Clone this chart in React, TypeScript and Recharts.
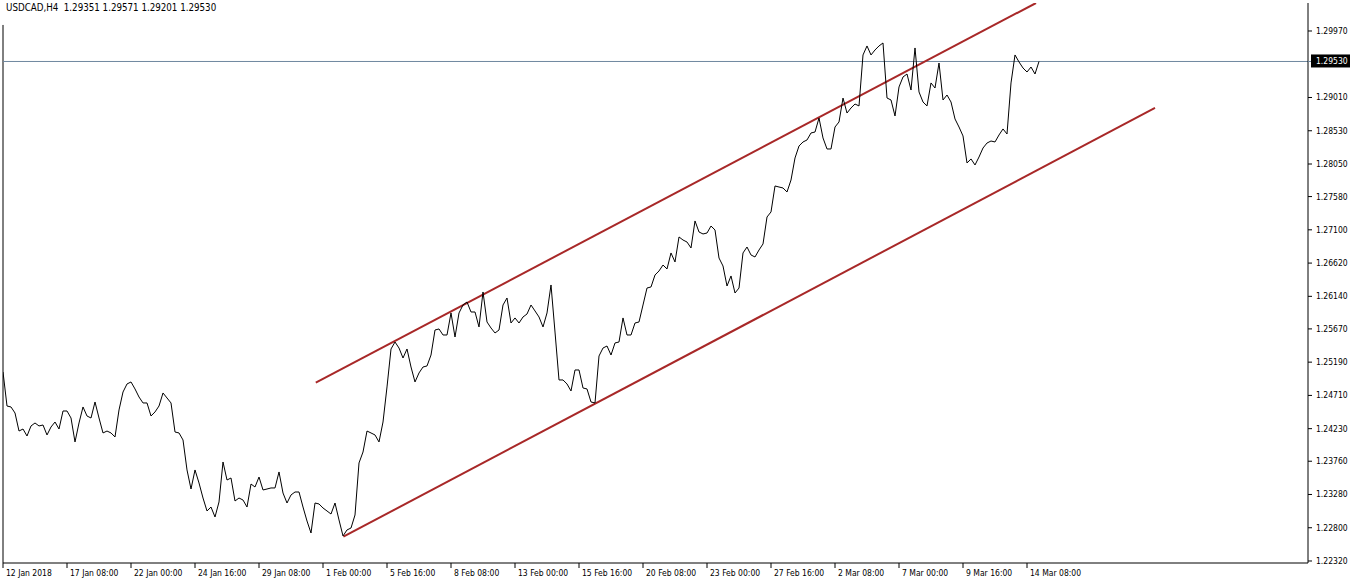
import React from "react";
import { LineChart, Line, XAxis, YAxis, ReferenceLine } from "recharts";

const headerText = "USDCAD,H4  1.29351 1.29571 1.29201 1.29530";

const closePrices: number[] = [
  1.25048, 1.24557, 1.24543, 1.24456, 1.24196, 1.24225, 1.24124, 1.24269, 1.24312, 1.24269,
  1.24283, 1.24139, 1.24254, 1.24326, 1.24225, 1.24485, 1.24485, 1.24384, 1.24038, 1.24312,
  1.24543, 1.24413, 1.24384, 1.24615, 1.24384, 1.24168, 1.24196, 1.24168, 1.24110, 1.24500,
  1.24759, 1.24875, 1.24904, 1.24803, 1.24687, 1.24601, 1.24601, 1.24413, 1.24471, 1.24557,
  1.24745, 1.24673, 1.24601, 1.24182, 1.24168, 1.24067, 1.23634, 1.23359, 1.23634, 1.23446,
  1.23229, 1.23042, 1.23099, 1.22955, 1.23172, 1.23749, 1.23489, 1.23518, 1.23186, 1.23229,
  1.23200, 1.23099, 1.23431, 1.23388, 1.23532, 1.23345, 1.23359, 1.23374, 1.23374, 1.23605,
  1.23301, 1.23157, 1.23273, 1.23316, 1.23316, 1.23099, 1.22897, 1.22724, 1.23157, 1.23143,
  1.23085, 1.23042, 1.22998, 1.23157, 1.22912, 1.22681, 1.22768, 1.22796, 1.22984, 1.23735,
  1.23893, 1.24196, 1.24168, 1.24139, 1.24038, 1.24326, 1.24832, 1.25380, 1.25481, 1.25394,
  1.25250, 1.25380, 1.25120, 1.24904, 1.25034, 1.25120, 1.25135, 1.25293, 1.25654, 1.25669,
  1.25582, 1.25582, 1.25900, 1.25553, 1.25900, 1.26015, 1.26058, 1.25914, 1.25914, 1.25698,
  1.26203, 1.25770, 1.25683, 1.25611, 1.25654, 1.26015, 1.26116, 1.25755, 1.25828, 1.25755,
  1.25842, 1.25885, 1.26015, 1.25929, 1.25842, 1.25698, 1.25900, 1.26304, 1.25625, 1.24933,
  1.24933, 1.24875, 1.24774, 1.25077, 1.25077, 1.24817, 1.24803, 1.24615, 1.24601, 1.25279,
  1.25394, 1.25423, 1.25293, 1.25467, 1.25481, 1.25828, 1.25582, 1.25582, 1.25755, 1.25770,
  1.26015, 1.26260, 1.26275, 1.26448, 1.26506, 1.26592, 1.26535, 1.26766, 1.26636, 1.26997,
  1.26953, 1.26924, 1.26838, 1.27228, 1.27069, 1.27040, 1.27054, 1.27155, 1.27098, 1.26693,
  1.26578, 1.26289, 1.26434, 1.26188, 1.26260, 1.26766, 1.26852, 1.26737, 1.26708, 1.26809,
  1.26896, 1.27285, 1.27358, 1.27733, 1.27718, 1.27704, 1.27646, 1.27819, 1.28137, 1.28310,
  1.28368, 1.28397, 1.28498, 1.28512, 1.28714, 1.28426, 1.28267, 1.28267, 1.28584, 1.28657,
  1.29002, 1.28786, 1.28859, 1.28916, 1.28888, 1.29624, 1.29754, 1.29624, 1.29696, 1.29754,
  1.29797, 1.29003, 1.28974, 1.28743, 1.29162, 1.29306, 1.29349, 1.29118, 1.29725, 1.29090,
  1.28945, 1.28888, 1.29220, 1.29147, 1.29508, 1.28974, 1.29046, 1.28945, 1.28700, 1.28584,
  1.28455, 1.28065, 1.28123, 1.28036, 1.28151, 1.28281, 1.28353, 1.28382, 1.28368, 1.28469,
  1.28556, 1.28483, 1.29220, 1.29624, 1.29523, 1.29436, 1.29378, 1.29450, 1.29349, 1.29530,
];

const xTickBars: number[] = [0, 16, 32, 48, 64, 80, 96, 112, 128, 144, 160, 176, 192, 208, 224, 240, 256];
const xTickLabels: string[] = [
  "12 Jan 2018", "17 Jan 08:00", "22 Jan 00:00", "24 Jan 16:00", "29 Jan 08:00", "1 Feb 00:00",
  "5 Feb 16:00", "8 Feb 08:00", "13 Feb 00:00", "15 Feb 16:00", "20 Feb 08:00", "23 Feb 00:00",
  "27 Feb 16:00", "2 Mar 08:00", "7 Mar 00:00", "9 Mar 16:00", "14 Mar 08:00",
];

const lastPrice = 1.2953;
const yTickValues: number[] = [
  1.2232, 1.228, 1.2328, 1.2376, 1.2423, 1.2471, 1.2519, 1.2567, 1.2614, 1.2662, 1.271,
  1.2758, 1.2805, 1.2853, 1.2901, 1.2997, lastPrice,
];

const upperChannel = [
  { bar: 78.2, price: 1.24894 },
  { bar: 258.25, price: 1.30374 },
];
const lowerChannel = [
  { bar: 85.1, price: 1.22671 },
  { bar: 288, price: 1.28859 },
];
const leftFrame = [
  { bar: 0, price: 1.30057 },
  { bar: 0, price: 1.22291 },
];

const priceDomain: [number, number] = [1.22291, 1.30374];
const barDomain: [number, number] = [0, 326.25];

const data = closePrices.map((p, i) => ({ bar: i, price: p }));

const FONT = '"DejaVu Sans Condensed", "DejaVu Sans", sans-serif';
const CHANNEL_COLOR = "#A82828";
const BID_COLOR = "#6F879F";

const XTick = (props: any) => {
  const { x, y, payload } = props;
  const idx = xTickBars.indexOf(payload.value);
  return (
    <g>
      <line x1={x} y1={y} x2={x} y2={y + 5} stroke="#000" strokeWidth={1} />
      <text x={x + 3} y={y + 13} fontSize={8.5} fontFamily={FONT} fill="#000" textAnchor="start">
        {idx >= 0 ? xTickLabels[idx] : ""}
      </text>
    </g>
  );
};

const YTick = (props: any) => {
  const { x, y, payload } = props;
  const v: number = payload.value;
  const isPrice = Math.abs(v - lastPrice) < 1e-9;
  return (
    <g>
      <line x1={x} y1={y} x2={x + 4} y2={y} stroke={isPrice ? BID_COLOR : "#000"} strokeWidth={1} />
      {isPrice && <rect x={x + 3} y={y - 7} width={42} height={13} fill="#000" />}
      <text x={x + 8} y={y} dy="0.35em" fontSize={8.5} fontFamily={FONT} fill={isPrice ? "#fff" : "#000"} textAnchor="start">
        {v.toFixed(5)}
      </text>
    </g>
  );
};

export default function App() {
  return (
    <div style={{ position: "absolute", left: 0, top: 0, width: 1350, height: 584, background: "#fff" }}>
      <LineChart width={1350} height={584} data={data} margin={{ top: 3, right: 0, bottom: 0, left: 3 }}>
        <XAxis
          dataKey="bar"
          type="number"
          domain={barDomain}
          allowDataOverflow
          ticks={xTickBars}
          interval={0}
          tickSize={0}
          tickMargin={0}
          tickLine={false}
          axisLine={{ stroke: "#000", strokeWidth: 1 }}
          tick={<XTick />}
          height={21}
        />
        <YAxis
          orientation="right"
          type="number"
          domain={priceDomain}
          allowDataOverflow
          ticks={yTickValues}
          interval={0}
          tickSize={0}
          tickMargin={0}
          tickLine={false}
          axisLine={{ stroke: "#000", strokeWidth: 1 }}
          tick={<YTick />}
          width={42}
        />
        <ReferenceLine
          segment={leftFrame.map((p) => ({ x: p.bar, y: p.price }))}
          stroke="#000"
          strokeWidth={1}
          ifOverflow="visible"
        />
        <ReferenceLine y={lastPrice} stroke={BID_COLOR} strokeWidth={1} ifOverflow="visible" />
        <ReferenceLine
          segment={upperChannel.map((p) => ({ x: p.bar, y: p.price }))}
          stroke={CHANNEL_COLOR}
          strokeWidth={2}
          ifOverflow="hidden"
        />
        <ReferenceLine
          segment={lowerChannel.map((p) => ({ x: p.bar, y: p.price }))}
          stroke={CHANNEL_COLOR}
          strokeWidth={2}
          ifOverflow="hidden"
        />
        <Line
          type="linear"
          dataKey="price"
          stroke="#000"
          strokeWidth={1}
          dot={false}
          activeDot={false}
          isAnimationActive={false}
        />
      </LineChart>
      <div
        style={{
          position: "absolute",
          left: 6,
          top: 2,
          fontFamily: FONT,
          fontSize: 9.7,
          lineHeight: "11px",
          whiteSpace: "pre",
          color: "#000",
        }}
      >
        {headerText}
      </div>
    </div>
  );
}
